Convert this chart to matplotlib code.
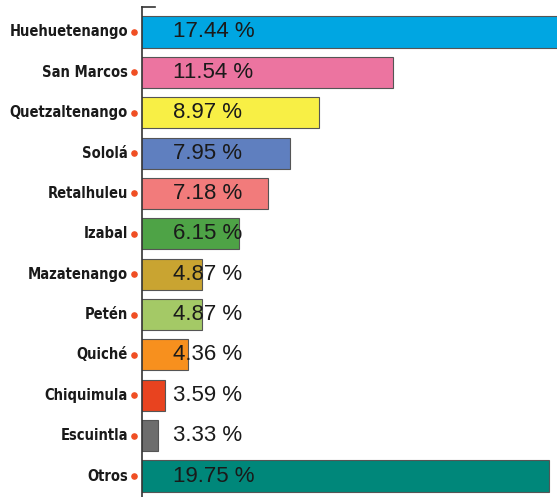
import matplotlib.pyplot as plt
from matplotlib.transforms import blended_transform_factory

# departamentos y porcentajes
deptos = ['Huehuetenango', 'San Marcos', 'Quetzaltenango', 'Sololá', 'Retalhuleu',
          'Izabal', 'Mazatenango', 'Petén', 'Quiché', 'Chiquimula', 'Escuintla', 'Otros']
pct = [17.44, 11.54, 8.97, 7.95, 7.18, 6.15, 4.87, 4.87, 4.36, 3.59, 3.33, 19.75]
# largo de barra tal como se ve (eje truncado, Otros recortada)
largo = [17.44, 11.54, 8.97, 7.95, 7.18, 6.15, 4.87, 4.87, 4.36, 3.59, 3.33, 17.0]
colores = ['#00a6e2', '#ec74a0', '#f8ef45', '#5f7fbf', '#f27b7b', '#4ea346',
           '#c9a431', '#a4c966', '#f7901e', '#e8431f', '#6d6d6d', '#00877a']

fig = plt.figure(figsize=(5.57, 4.97), dpi=100)
ax = fig.add_axes([0.255, 0.0, 0.745, 0.986])

y = list(range(len(deptos)))
ax.barh(y, largo, height=0.77, color=colores, edgecolor='#555555', linewidth=0.8)

ax.set_xlim(2.77, 17.28)
ax.set_ylim(11.52, -0.62)

trans = blended_transform_factory(ax.transAxes, ax.transData)
for i, v in enumerate(pct):
    ax.text(0.075, i, f'{v:.2f} %', transform=trans, ha='left', va='center',
            fontsize=16, color='#1a1a1a', family='Liberation Sans')
    ax.text(-0.034, i, deptos[i], transform=trans, ha='right', va='center',
            fontsize=10.5, fontweight='bold', fontstretch='condensed',
            color='#1a1a1a', family='DejaVu Sans')
ax.scatter([-0.02] * len(deptos), y, s=14, color='#f04e23', transform=trans,
           clip_on=False, zorder=5)

for s in ['top', 'right', 'bottom']:
    ax.spines[s].set_visible(False)
ax.spines['left'].set_color('#333333')
ax.spines['left'].set_linewidth(1.2)
ax.plot([0, 0.032], [1, 1], transform=ax.transAxes, color='#333333', lw=1.2,
        clip_on=False)
ax.set_xticks([])
ax.set_yticks([])

fig.savefig('out.png', dpi=100)
